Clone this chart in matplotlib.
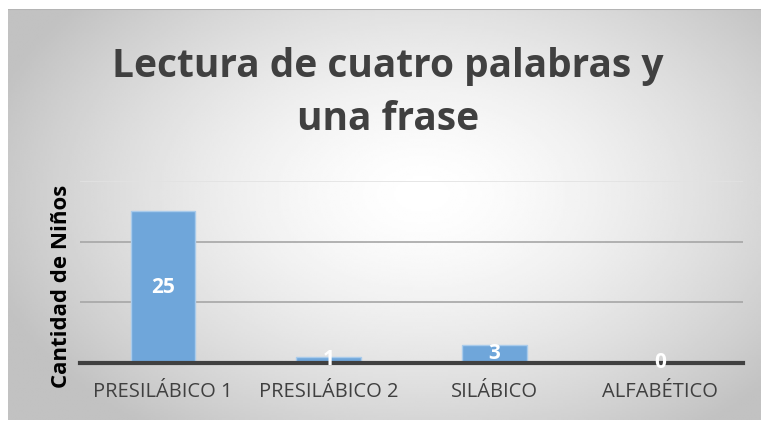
import numpy as np
import matplotlib.pyplot as plt

# data
categorias = ["PRESILÁBICO 1", "PRESILÁBICO 2", "SILÁBICO", "ALFABÉTICO"]
ninos = [25, 1, 3, 0]
titulo = "Lectura de cuatro palabras y\nuna frase"
etiqueta_y = "Cantidad de Niños"

plt.rcParams['font.family'] = ['Open Sans', 'DejaVu Sans']

fig = plt.figure(figsize=(7.61, 4.21), dpi=100)
W, H = 761, 421

# chart area background with radial gradient
bg = fig.add_axes([8 / W, 1 / H, (W - 8) / W, 411 / H])
bg.set_axis_off()
yy, xx = np.mgrid[0:1:200j, 0:1:360j]
d = np.sqrt(((xx - 0.55) / 0.6) ** 2 + ((yy - 0.45) / 0.72) ** 2)
shade = 1.0 - 0.24 * np.clip(d, 0, 1) ** 1.5
bg.imshow(shade, cmap='gray', vmin=0, vmax=1, aspect='auto',
          extent=[0, 1, 0, 1], interpolation='bilinear')
bg.axhline(1, color='#b4b4b4', lw=1.5)
bg.set_xlim(0, 1)
bg.set_ylim(0, 1)

ax = fig.add_axes([80 / W, (H - 363) / H, 663 / W, 182 / H])
ax.patch.set_alpha(0)
x = np.arange(len(categorias))
bars = ax.bar(x, ninos, width=0.39, color='#6fa6da', edgecolor='#a9cbeb',
              linewidth=1, zorder=2)
ax.set_xlim(-0.5, len(categorias) - 0.5)
ax.set_ylim(0, 30)
ax.set_yticks([0, 10, 20, 30])
ax.tick_params(axis='y', length=0, labelleft=False)
ax.tick_params(axis='x', length=0, pad=14, labelsize=14.5, labelcolor='#404040')
ax.set_xticks(x)
ax.set_xticklabels(categorias)
ax.grid(axis='y', color='#a6a6a6', lw=1.2, zorder=0)
ax.get_ygridlines()[-1].set_color('#e2e2e2')
for s in ['top', 'left', 'right']:
    ax.spines[s].set_visible(False)
ax.spines['bottom'].set_color('#404040')
ax.spines['bottom'].set_linewidth(3)
ax.spines['bottom'].set_zorder(3)

for b, v in zip(bars, ninos):
    ax.text(b.get_x() + b.get_width() / 2, v / 2, str(v), ha='center',
            va='center', color='white', fontsize=15, fontweight='bold', zorder=4)

ax.set_ylabel(etiqueta_y, fontsize=16, fontweight='bold', color='black')
ax.yaxis.set_label_coords(-0.012, 0.42)

fig.text(388 / W, 1 - 93 / H, titulo, ha='center', va='center',
         fontsize=28, fontweight='bold', color='#404040', linespacing=1.45)

fig.savefig('out.png', dpi=100)
